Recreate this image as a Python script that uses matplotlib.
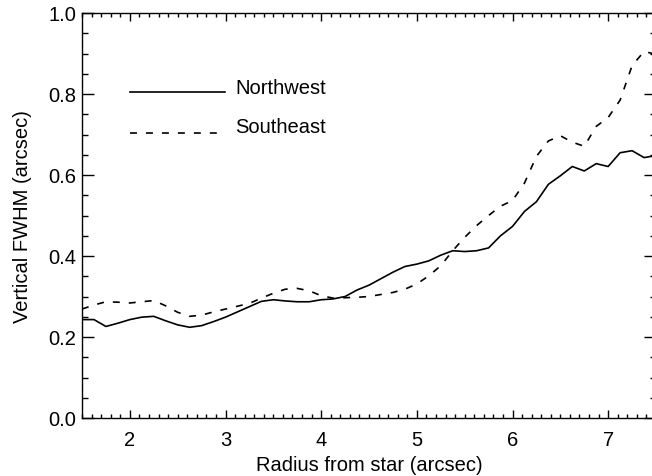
import matplotlib
matplotlib.use("Agg")
import matplotlib.pyplot as plt
from matplotlib.ticker import MultipleLocator, FormatStrFormatter

radius = [1.5 + 0.125 * k for k in range(49)]
northwest = [0.243, 0.243, 0.226, 0.234, 0.243, 0.249, 0.251, 0.240, 0.230, 0.224,
             0.228, 0.238, 0.249, 0.262, 0.275, 0.288, 0.292, 0.289, 0.287, 0.287,
             0.292, 0.294, 0.300, 0.316, 0.328, 0.344, 0.360, 0.374, 0.380, 0.388,
             0.402, 0.413, 0.411, 0.413, 0.420, 0.450, 0.473, 0.510, 0.534, 0.577,
             0.598, 0.621, 0.610, 0.628, 0.621, 0.655, 0.660, 0.643, 0.648]
southeast = [0.269, 0.279, 0.287, 0.286, 0.284, 0.287, 0.290, 0.277, 0.261, 0.251,
             0.254, 0.262, 0.269, 0.276, 0.283, 0.296, 0.308, 0.318, 0.320, 0.314,
             0.302, 0.296, 0.297, 0.298, 0.300, 0.305, 0.310, 0.318, 0.331, 0.351,
             0.376, 0.413, 0.446, 0.475, 0.500, 0.523, 0.537, 0.580, 0.646, 0.684,
             0.697, 0.681, 0.671, 0.720, 0.742, 0.785, 0.870, 0.905, 0.898]
series_names = ["Northwest", "Southeast"]

plt.rcParams['font.family'] = ['Liberation Sans', 'DejaVu Sans']
plt.rcParams['lines.scale_dashes'] = False

FS = 14.5
LW = 1.2
DASH = (5, 6.5)

fig = plt.figure(figsize=(6.52, 4.77), dpi=100)
ax = fig.add_axes([82/652, 58/477, 574/652, 405/477])

ax.plot(radius, northwest, color='black', lw=LW)
ax.plot(radius, southeast, color='black', lw=LW, dashes=DASH)

ax.set_xlim(1.5, 7.5)
ax.set_ylim(0.0, 1.0)
ax.xaxis.set_major_locator(MultipleLocator(1))
ax.xaxis.set_minor_locator(MultipleLocator(0.1))
ax.yaxis.set_major_locator(MultipleLocator(0.2))
ax.yaxis.set_minor_locator(MultipleLocator(0.05))
ax.yaxis.set_major_formatter(FormatStrFormatter('%.1f'))
ax.tick_params(which='both', direction='in', top=True, right=True, labelsize=FS, width=1.0, color='black')
ax.tick_params(axis='x', which='major', length=6, pad=9)
ax.tick_params(axis='x', which='minor', length=3)
ax.tick_params(axis='y', which='major', length=8.5, pad=4)
ax.tick_params(axis='y', which='minor', length=4)
for s in ax.spines.values():
    s.set_linewidth(1.0)

ax.set_xlabel('Radius from star (arcsec)', fontsize=FS, labelpad=4)
ax.set_ylabel('Vertical FWHM (arcsec)', fontsize=FS, labelpad=12)

# legend drawn in axes coordinates
lx0, lx1 = (130-82)/574, (225-82)/574
y1 = (419-93)/405
y2 = (419-134)/405
ax.plot([lx0, lx1], [y1, y1], transform=ax.transAxes, color='black', lw=LW)
ax.plot([lx0, lx1], [y2, y2], transform=ax.transAxes, color='black', lw=LW, dashes=DASH)
tx = (235-82)/574
ax.text(tx, (419-88)/405, series_names[0], transform=ax.transAxes, fontsize=FS, va='center', ha='left')
ax.text(tx, (419-128)/405, series_names[1], transform=ax.transAxes, fontsize=FS, va='center', ha='left')

fig.savefig('out.png', dpi=100)
